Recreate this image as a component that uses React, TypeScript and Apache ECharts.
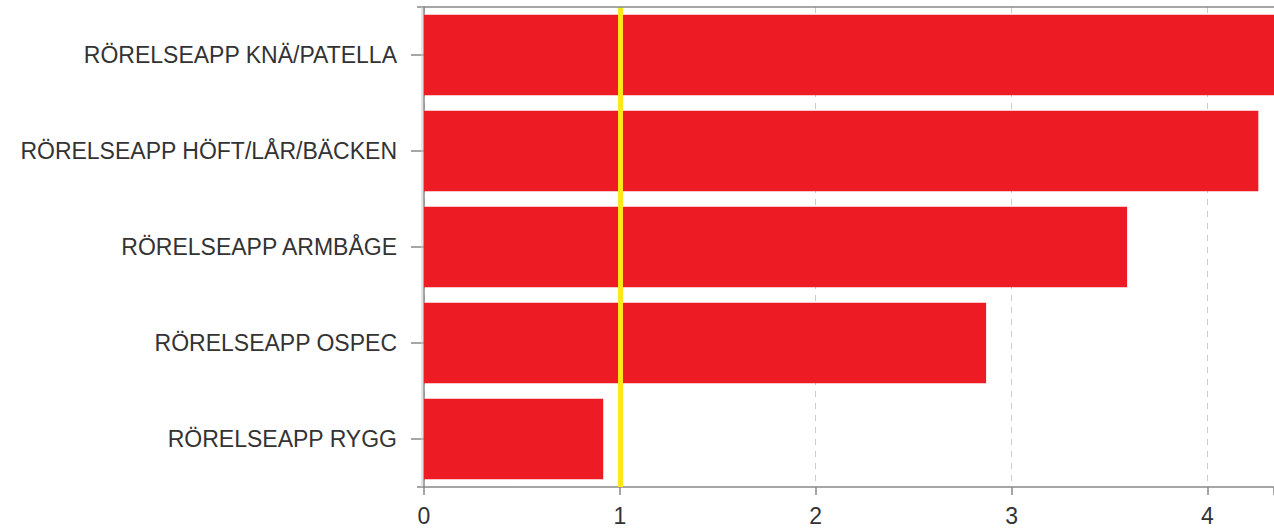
import React, { useEffect, useRef } from "react";
import * as echarts from "echarts";

const categories = [
  "RÖRELSEAPP KNÄ/PATELLA",
  "RÖRELSEAPP HÖFT/LÅR/BÄCKEN",
  "RÖRELSEAPP ARMBÅGE",
  "RÖRELSEAPP OSPEC",
  "RÖRELSEAPP RYGG",
];
const values = [4.42, 4.26, 3.59, 2.87, 0.915];
const referenceValue = 1;
const xTicks = [0, 1, 2, 3, 4];

export default function App() {
  const ref = useRef<HTMLDivElement>(null);
  useEffect(() => {
    if (!ref.current) return;
    const chart = echarts.init(ref.current, null, { renderer: "svg" });
    const font = "Arial, 'Liberation Sans', sans-serif";
    chart.setOption({
      animation: false,
      grid: {
        left: 424,
        right: 0,
        top: 7,
        bottom: 42,
        containLabel: false,
        outerBoundsMode: "none",
      },
      xAxis: {
        type: "value",
        min: 0,
        max: 4.34,
        interval: 1,
        axisLine: { show: true, lineStyle: { color: "#888", width: 1.5 } },
        axisTick: { show: true, length: 8, lineStyle: { color: "#888", width: 1.5 } },
        axisLabel: {
          color: "#333",
          fontSize: 23,
          fontFamily: font,
          margin: 17,
          formatter: (v: number) => (xTicks.includes(v) ? String(v) : ""),
        },
        splitLine: {
          show: true,
          lineStyle: { color: "#ccc", type: [6, 6], width: 1 },
        },
      },
      yAxis: {
        type: "category",
        data: categories,
        inverse: true,
        offset: 7,
        axisLine: { show: true, lineStyle: { color: "#888", width: 1.5 } },
        axisTick: { show: true, length: 13, alignWithLabel: true, lineStyle: { color: "#888", width: 1.5 } },
        axisLabel: { color: "#333", fontSize: 23, fontFamily: font, margin: 20 },
        splitLine: { show: false },
      },
      graphic: [
        {
          type: "line",
          shape: { x1: 417, y1: 7, x2: 1274, y2: 7 },
          style: { stroke: "#888", lineWidth: 1.5 },
          z: 10,
        },
        {
          type: "line",
          shape: { x1: 417, y1: 487, x2: 424, y2: 487 },
          style: { stroke: "#888", lineWidth: 1.5 },
          z: 10,
        },
        {
          type: "line",
          shape: { x1: 422, y1: 7, x2: 422, y2: 487 },
          style: { stroke: "#c8c8c8", lineWidth: 1 },
          z: 10,
        },
      ],
      series: [
        {
          type: "bar",
          data: values,
          barCategoryGap: "16%",
          itemStyle: { color: "#ED1C24" },
          markLine: {
            silent: true,
            symbol: ["none", "none"],
            label: { show: false },
            lineStyle: { color: "#FFE81A", width: 5, type: "solid" },
            data: [{ xAxis: referenceValue }],
            z: 5,
          },
        },
      ],
    });
    return () => chart.dispose();
  }, []);
  return (
    <div
      ref={ref}
      style={{ position: "fixed", left: 0, top: 0, width: 1274, height: 529, background: "#fff" }}
    />
  );
}
